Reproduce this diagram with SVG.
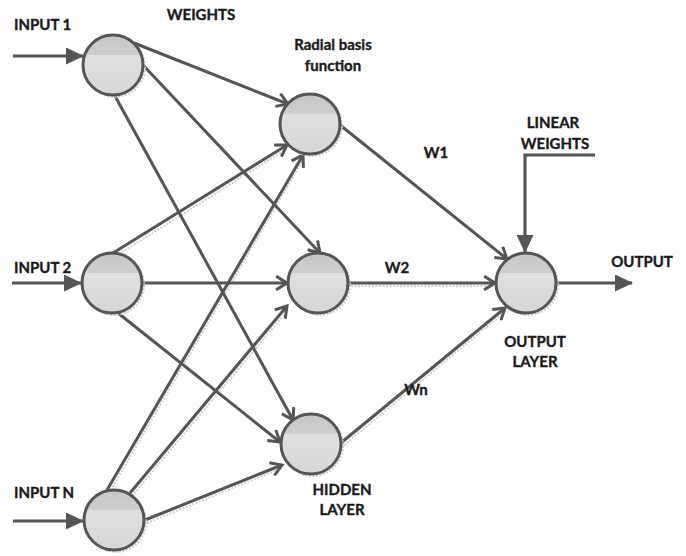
<svg xmlns="http://www.w3.org/2000/svg" width="686" height="556" viewBox="0 0 686 556">
<style>
text{font-family:"Lato","Liberation Sans",sans-serif;font-weight:bold;font-size:15px;fill:#1a1a1a;stroke:#1a1a1a;stroke-width:0.35}
.c{text-anchor:middle}
.edge{stroke:#555;stroke-width:3;fill:none;marker-end:url(#open)}
.io{stroke:#555;stroke-width:3.2;fill:none;marker-end:url(#solid)}
.sh{stroke:#cfcfcf;stroke-width:2;stroke-dasharray:2 1.5;fill:none}
.node{fill:url(#g);stroke:#555;stroke-width:3}
.nsh{fill:none;stroke:#cdcdcd;stroke-width:2;stroke-dasharray:2 1.5}
</style>
<defs>
<linearGradient id="g" x1="0" y1="0" x2="0" y2="1">
<stop offset="0" stop-color="#c6c6c6"/>
<stop offset="0.33" stop-color="#cecece"/>
<stop offset="0.33" stop-color="#e0e0e0"/>
<stop offset="1" stop-color="#d6d6d6"/>
</linearGradient>
<marker id="open" markerUnits="userSpaceOnUse" markerWidth="16" markerHeight="16" viewBox="0 0 12 14" refX="10.5" refY="7" orient="auto">
<path d="M1,1 L10.5,7 L1,13" fill="none" stroke="#555" stroke-width="2.6"/>
</marker>
<marker id="solid" markerUnits="userSpaceOnUse" markerWidth="18" markerHeight="17" viewBox="0 0 18 17" refX="17" refY="8.5" orient="auto">
<path d="M0,0 L18,8.5 L0,17 Z" fill="#555"/>
</marker>
</defs>

<g id="shadows">
<line class="sh" x1="351" y1="286" x2="494" y2="286"/>
<line class="sh" x1="344" y1="445" x2="506" y2="311"/>
<line class="sh" x1="116" y1="256" x2="288" y2="148"/>
<line class="sh" x1="109" y1="493" x2="304" y2="158"/>
<line class="sh" x1="132" y1="496" x2="288" y2="310"/>
<line class="sh" x1="147" y1="523" x2="282" y2="468"/>
</g>

<g id="connectors">
<line class="io" x1="13" y1="56" x2="83" y2="56"/>
<line class="io" x1="12" y1="283" x2="81" y2="283"/>
<line class="io" x1="13" y1="521" x2="83" y2="521"/>
<line class="edge" x1="134" y1="43" x2="288" y2="104"/>
<line class="edge" x1="142" y1="64" x2="320" y2="253"/>
<line class="edge" x1="115" y1="96" x2="293" y2="420"/>
<line class="edge" x1="113" y1="253" x2="287" y2="145"/>
<line class="edge" x1="143" y1="283" x2="287" y2="283"/>
<line class="edge" x1="118" y1="313" x2="280" y2="442"/>
<line class="edge" x1="107" y1="490" x2="303" y2="155"/>
<line class="edge" x1="130" y1="493" x2="287" y2="306"/>
<line class="edge" x1="145" y1="520" x2="282" y2="465"/>
<line class="edge" x1="340" y1="125" x2="507" y2="259"/>
<line class="edge" x1="349" y1="283" x2="495" y2="283"/>
<line class="edge" x1="342" y1="442" x2="505" y2="308"/>
<polyline class="io" points="595,155 525,155 525,252"/>
<line class="io" x1="557" y1="283" x2="632" y2="283"/>
</g>

<g id="input1"><circle class="nsh" cx="115" cy="67" r="30"/><circle class="node" cx="113" cy="65" r="30"/></g>
<g id="input2"><circle class="nsh" cx="114" cy="285" r="30"/><circle class="node" cx="112" cy="283" r="30"/></g>
<g id="inputN"><circle class="nsh" cx="116" cy="522" r="30"/><circle class="node" cx="114" cy="520" r="30"/></g>
<g id="hidden1"><circle class="nsh" cx="312" cy="126" r="30"/><circle class="node" cx="310" cy="124" r="30"/></g>
<g id="hidden2"><circle class="nsh" cx="320" cy="285" r="30"/><circle class="node" cx="318" cy="283" r="30"/></g>
<g id="hiddenN"><circle class="nsh" cx="313" cy="446" r="30"/><circle class="node" cx="311" cy="444" r="30"/></g>
<g id="output"><circle class="nsh" cx="528" cy="285" r="30"/><circle class="node" cx="526" cy="283" r="30"/></g>

<g id="labels">
<text x="14" y="30">INPUT 1</text>
<text x="14" y="273">INPUT 2</text>
<text x="14" y="498">INPUT N</text>
<text x="201" y="20" class="c">WEIGHTS</text>
<text x="333" y="50" class="c">Radial basis</text>
<text x="333" y="71" class="c">function</text>
<text x="436" y="158" class="c">W1</text>
<text x="397" y="273" class="c">W2</text>
<text x="416" y="395" class="c">Wn</text>
<text x="553" y="128" class="c">LINEAR</text>
<text x="555" y="149" class="c">WEIGHTS</text>
<text x="642" y="267" class="c">OUTPUT</text>
<text x="535" y="347" class="c">OUTPUT</text>
<text x="535" y="367" class="c">LAYER</text>
<text x="342" y="495" class="c">HIDDEN</text>
<text x="342" y="515" class="c">LAYER</text>
</g>
</svg>
